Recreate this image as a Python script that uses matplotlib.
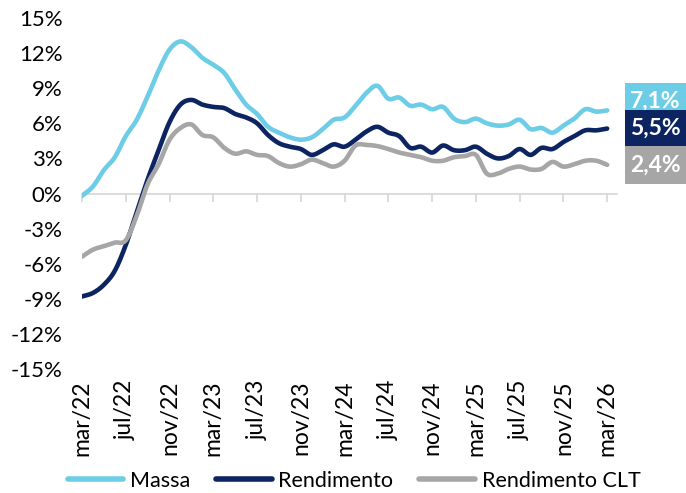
import numpy as np
import matplotlib
matplotlib.use("Agg")
import matplotlib.pyplot as plt
from matplotlib.patches import Rectangle
from matplotlib.transforms import blended_transform_factory

plt.rcParams['font.family'] = ['Lato', 'DejaVu Sans']

months = ["mar/22", "abr/22", "mai/22", "jun/22", "jul/22", "ago/22", "set/22", "out/22",
          "nov/22", "dez/22", "jan/23", "fev/23", "mar/23", "abr/23", "mai/23", "jun/23",
          "jul/23", "ago/23", "set/23", "out/23", "nov/23", "dez/23", "jan/24", "fev/24",
          "mar/24", "abr/24", "mai/24", "jun/24", "jul/24", "ago/24", "set/24", "out/24",
          "nov/24", "dez/24", "jan/25", "fev/25", "mar/25", "abr/25", "mai/25", "jun/25",
          "jul/25", "ago/25", "set/25", "out/25", "nov/25", "dez/25", "jan/26", "fev/26",
          "mar/26"]

massa = [-0.2, 0.6, 2.0, 3.1, 4.9, 6.3, 8.3, 10.5, 12.3, 13.0, 12.5, 11.6, 11.0, 10.3,
         8.9, 7.6, 6.8, 5.7, 5.2, 4.8, 4.6, 4.8, 5.5, 6.3, 6.5, 7.5, 8.6, 9.2, 8.1, 8.2,
         7.5, 7.6, 7.2, 7.4, 6.4, 6.1, 6.4, 6.0, 5.8, 5.9, 6.3, 5.5, 5.6, 5.2, 5.8, 6.4,
         7.2, 7.0, 7.1]

rendimento = [-8.8, -8.5, -7.8, -6.6, -4.4, -1.6, 1.2, 3.7, 6.1, 7.6, 8.0, 7.6, 7.4, 7.3,
              6.8, 6.5, 6.0, 5.0, 4.3, 4.0, 3.8, 3.3, 3.7, 4.2, 4.0, 4.6, 5.3, 5.7, 5.2,
              4.9, 3.9, 4.0, 3.5, 4.1, 3.7, 3.7, 4.0, 3.4, 3.0, 3.2, 3.8, 3.3, 3.9, 3.8,
              4.4, 4.9, 5.4, 5.4, 5.55]

rendimento_clt = [-5.4, -4.8, -4.5, -4.2, -4.0, -1.9, 0.8, 2.5, 4.6, 5.6, 5.9, 5.0, 4.8,
                  3.9, 3.4, 3.6, 3.3, 3.2, 2.6, 2.3, 2.5, 2.9, 2.6, 2.3, 2.8, 4.1, 4.15,
                  4.05, 3.8, 3.5, 3.3, 3.1, 2.8, 2.8, 3.1, 3.2, 3.3, 1.7, 1.7, 2.1, 2.3,
                  2.05, 2.1, 2.7, 2.3, 2.5, 2.8, 2.8, 2.45]

series_names = ["Massa", "Rendimento", "Rendimento CLT"]
end_labels = ["7,1%", "5,5%", "2,4%"]
colors = ["#6DCDE6", "#0C2461", "#A6A6A6"]

yticks = list(range(-15, 16, 3))
tick_step = 4


def smooth(x, y, n=12):
    """Catmull-Rom spline through the points (like Excel's smoothed line)."""
    x = np.asarray(x, float)
    y = np.asarray(y, float)
    px = np.concatenate([[2 * x[0] - x[1]], x, [2 * x[-1] - x[-2]]])
    py = np.concatenate([[2 * y[0] - y[1]], y, [2 * y[-1] - y[-2]]])
    xs, ys = [], []
    t = np.linspace(0, 1, n, endpoint=False)
    for i in range(1, len(px) - 2):
        for P, out in ((px, xs), (py, ys)):
            p0, p1, p2, p3 = P[i - 1], P[i], P[i + 1], P[i + 2]
            out.extend(0.5 * ((2 * p1) + (-p0 + p2) * t
                              + (2 * p0 - 5 * p1 + 4 * p2 - p3) * t ** 2
                              + (-p0 + 3 * p1 - 3 * p2 + p3) * t ** 3))
    xs.append(x[-1])
    ys.append(y[-1])
    return np.array(xs), np.array(ys)


W, H = 686, 493
fig = plt.figure(figsize=(W / 100, H / 100), dpi=100)
ax = fig.add_axes([82 / W, 1 - 369 / H, (617 - 82) / W, (369 - 18) / H])

x = np.arange(len(months))
all_series = [massa, rendimento, rendimento_clt]
for k, (vals, name, c) in enumerate(zip(all_series, series_names, colors)):
    sx, sy = smooth(x, vals)
    ax.plot(sx, sy, color=c, lw=3.3, label=name, solid_capstyle='round',
            solid_joinstyle='round', zorder=3 + k)

ax.set_xlim(0, 48.9)
ax.set_ylim(-15, 15)

# y axis
ax.set_yticks(yticks)
ax.set_yticklabels([f"{v}%" for v in yticks], fontsize=16, color="#000000")
ax.tick_params(axis='y', length=0, pad=14)

for s in ["left", "right", "top"]:
    ax.spines[s].set_visible(False)
ax.spines["bottom"].set_position(("data", 0))
ax.spines["bottom"].set_color("#D9D9D9")
ax.spines["bottom"].set_linewidth(1.3)
ax.spines["bottom"].set_zorder(1)

tick_pos = x[::tick_step]
ax.set_xticks(tick_pos)
ax.tick_params(axis='x', direction='out', length=5.5, width=1.3, color="#D9D9D9",
               labelbottom=False)

sec = ax.secondary_xaxis(location=0)
sec.set_xticks(tick_pos)
sec.set_xticklabels([months[i] for i in tick_pos], rotation=90, fontsize=16.5,
                    va='top', ha='center')
sec.tick_params(length=0, pad=8)
for s in sec.spines.values():
    s.set_visible(False)

# end labels
tr = blended_transform_factory(fig.transFigure, ax.transData)
box_h = 38 / 11.7
offsets = [0.75, 0.0, 0.0]
for k, (vals, lab, c, off) in enumerate(zip(all_series, end_labels, colors, offsets)):
    yc = vals[-1] + off
    r = Rectangle((625 / W, yc - box_h / 2), (W - 625) / W, box_h, transform=tr,
                  facecolor=c, edgecolor='none', clip_on=False, zorder=10 + 2 * k)
    ax.add_patch(r)
    ax.text(655.5 / W, yc, lab, transform=tr, color="white", fontsize=16.5,
            fontweight='bold', ha='center', va='center', clip_on=False,
            zorder=11 + 2 * k)

leg = fig.legend(loc='center', bbox_to_anchor=(354 / W, 1 - 481 / H), ncol=3,
                 frameon=False, fontsize=15.5, handlelength=2.6, handletextpad=0.3,
                 columnspacing=1.2)
for h in leg.legend_handles:
    h.set_linewidth(4)

fig.savefig("out.png", dpi=100)
